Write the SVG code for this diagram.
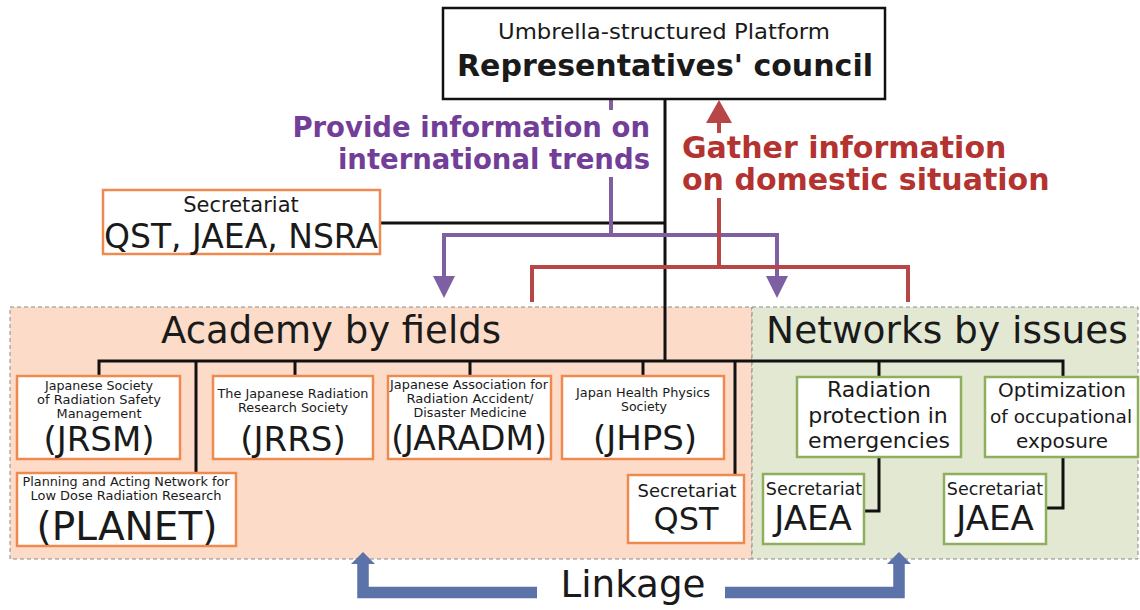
<svg xmlns="http://www.w3.org/2000/svg" width="1140" height="610" viewBox="0 0 1140 610">
<style>
  text { font-family: "DejaVu Sans", Verdana, sans-serif; fill: #1a1a1a; }
  .ob { fill: #ffffff; stroke: #ee8a4f; stroke-width: 2.5; }
  .gb { fill: #ffffff; stroke: #8fae5e; stroke-width: 2.5; }
  .blk { fill: none; stroke: #111111; stroke-width: 3; }
  .pur { fill: none; stroke: #7e60a2; stroke-width: 4; }
  .red { fill: none; stroke: #b94647; stroke-width: 4; }
  .blu { fill: none; stroke: #5b73a8; stroke-width: 11.5; }
  .sm { font-size: 12.5px; text-anchor: middle; }
  .big { text-anchor: middle; }
  .mid { font-size: 22px; text-anchor: middle; }
</style>
<rect width="1140" height="610" fill="#ffffff"/>

<!-- regions -->
<g id="region-academy">
  <rect x="10" y="307" width="742" height="252" fill="#fcdcc8" stroke="#8a8a8a" stroke-width="1" stroke-dasharray="4 3"/>
  <text x="331" y="343" font-size="37px" text-anchor="middle">Academy by fields</text>
</g>
<g id="region-networks">
  <rect x="752" y="307" width="386" height="252" fill="#e3e8d3" stroke="#8a8a8a" stroke-width="1" stroke-dasharray="4 3"/>
  <text x="947" y="343" font-size="37.5px" text-anchor="middle">Networks by issues</text>
</g>

<!-- connectors -->
<g id="connectors">
  <path class="blk" d="M665,100 V361"/>
  <path class="blk" d="M380,223 H665"/>
  <path class="blk" d="M99,377 V361 H1063 V377"/>
  <path class="blk" d="M295,361 V377 M470,361 V377 M643,361 V377 M879,361 V378"/>
  <path class="blk" d="M196,361 V474"/>
  <path class="blk" d="M735,361 V476"/>
  <path class="blk" d="M879,456 V511 H864"/>
  <path class="blk" d="M1063,456 V508 H1046"/>

  <!-- purple: provide information -->
  <path class="pur" d="M611,99 V110"/>
  <path class="pur" d="M611,177 V235 M444,278 V235 H777 V278"/>
  <polygon points="433,276 455,276 444,298" fill="#7e60a2"/>
  <polygon points="766,276 788,276 777,298" fill="#7e60a2"/>

  <!-- red: gather information -->
  <polygon points="706,123 732,123 719,100" fill="#b94647"/>
  <path class="red" d="M719,122 V133"/>
  <path class="red" d="M719,198 V267 M532,302 V267 H908 V302"/>

  <!-- blue linkage -->
  <path class="blu" d="M537,592.5 H363 V562"/>
  <polygon points="351,564 375,564 363,552" fill="#5b73a8"/>
  <path class="blu" d="M725,592.5 H899 V562"/>
  <polygon points="887,564 911,564 899,552" fill="#5b73a8"/>
</g>

<!-- labels on connectors -->
<g id="label-provide">
  <text x="650" y="137" font-size="27.5px" font-weight="bold" text-anchor="end" style="fill:#733e98">Provide information on</text>
  <text x="650" y="169" font-size="27.5px" font-weight="bold" text-anchor="end" style="fill:#733e98">international trends</text>
</g>
<g id="label-gather">
  <text x="682" y="158" font-size="30px" font-weight="bold" style="fill:#b33330">Gather information</text>
  <text x="682" y="190" font-size="30px" font-weight="bold" style="fill:#b33330">on domestic situation</text>
</g>
<g id="label-linkage">
  <text x="633" y="597" font-size="38px" text-anchor="middle" textLength="145" lengthAdjust="spacingAndGlyphs">Linkage</text>
</g>

<!-- nodes -->
<g id="node-council">
  <rect x="443" y="8" width="442" height="91" fill="#ffffff" stroke="#111111" stroke-width="2.5"/>
  <text x="664" y="39" font-size="21px" text-anchor="middle" textLength="332" lengthAdjust="spacingAndGlyphs">Umbrella-structured Platform</text>
  <text x="665" y="76" font-size="29.5px" font-weight="bold" text-anchor="middle" textLength="416" lengthAdjust="spacingAndGlyphs">Representatives' council</text>
</g>

<g id="node-secretariat-top">
  <rect class="ob" x="103" y="190" width="277" height="64"/>
  <text x="241" y="212" font-size="21px" text-anchor="middle">Secretariat</text>
  <text x="241" y="248" font-size="33px" text-anchor="middle">QST, JAEA, NSRA</text>
</g>

<g id="node-jrsm">
  <rect class="ob" x="17" y="376" width="163" height="83"/>
  <text class="sm" x="99" y="390" textLength="108" lengthAdjust="spacingAndGlyphs">Japanese Society</text>
  <text class="sm" x="99" y="404" textLength="124" lengthAdjust="spacingAndGlyphs">of Radiation Safety</text>
  <text class="sm" x="99" y="418" textLength="85" lengthAdjust="spacingAndGlyphs">Management</text>
  <text class="big" x="99" y="451" font-size="34px">(JRSM)</text>
</g>

<g id="node-jrrs">
  <rect class="ob" x="213" y="376" width="160" height="83"/>
  <text class="sm" x="293" y="398" textLength="151" lengthAdjust="spacingAndGlyphs">The Japanese Radiation</text>
  <text class="sm" x="293" y="412" textLength="110" lengthAdjust="spacingAndGlyphs">Research Society</text>
  <text class="big" x="293" y="451" font-size="34px">(JRRS)</text>
</g>

<g id="node-jaradm">
  <rect class="ob" x="388" y="376" width="163" height="83"/>
  <text class="sm" x="469" y="389" textLength="158" lengthAdjust="spacingAndGlyphs">Japanese Association for</text>
  <text class="sm" x="470" y="403" textLength="127" lengthAdjust="spacingAndGlyphs">Radiation Accident/</text>
  <text class="sm" x="470" y="417" textLength="113" lengthAdjust="spacingAndGlyphs">Disaster Medicine</text>
  <text class="big" x="469" y="450" font-size="33px">(JARADM)</text>
</g>

<g id="node-jhps">
  <rect class="ob" x="562" y="376" width="162" height="83"/>
  <text class="sm" x="643" y="397" textLength="134" lengthAdjust="spacingAndGlyphs">Japan Health Physics</text>
  <text class="sm" x="644" y="411" textLength="46" lengthAdjust="spacingAndGlyphs">Society</text>
  <text class="big" x="645" y="450" font-size="34px">(JHPS)</text>
</g>

<g id="node-planet">
  <rect class="ob" x="17" y="473" width="219" height="73"/>
  <text class="sm" x="126" y="486" textLength="207" lengthAdjust="spacingAndGlyphs">Planning and Acting Network for</text>
  <text class="sm" x="126" y="500" textLength="191" lengthAdjust="spacingAndGlyphs">Low Dose Radiation Research</text>
  <text class="big" x="127" y="540" font-size="39px">(PLANET)</text>
</g>

<g id="node-secretariat-qst">
  <rect class="ob" x="628" y="475" width="116" height="68"/>
  <text x="687" y="497" font-size="18px" text-anchor="middle">Secretariat</text>
  <text x="686" y="530" font-size="32px" text-anchor="middle">QST</text>
</g>

<g id="node-radiation">
  <rect class="gb" x="797" y="377" width="164" height="80"/>
  <text class="mid" x="879" y="397">Radiation</text>
  <text class="mid" x="878" y="423">protection in</text>
  <text class="mid" x="879" y="448">emergencies</text>
</g>

<g id="node-optimization">
  <rect class="gb" x="985" y="377" width="153" height="80"/>
  <text x="1062" y="397" font-size="20px" text-anchor="middle">Optimization</text>
  <text x="1061" y="423" font-size="18.5px" text-anchor="middle">of occupational</text>
  <text x="1062" y="448" font-size="20px" text-anchor="middle">exposure</text>
</g>

<g id="node-jaea-1">
  <rect class="gb" x="763" y="474" width="101" height="70"/>
  <text x="814" y="495" font-size="17.5px" text-anchor="middle">Secretariat</text>
  <text x="813" y="530" font-size="34px" text-anchor="middle">JAEA</text>
</g>

<g id="node-jaea-2">
  <rect class="gb" x="944" y="474" width="102" height="70"/>
  <text x="995" y="495" font-size="17.5px" text-anchor="middle">Secretariat</text>
  <text x="995" y="530" font-size="34px" text-anchor="middle">JAEA</text>
</g>
</svg>
